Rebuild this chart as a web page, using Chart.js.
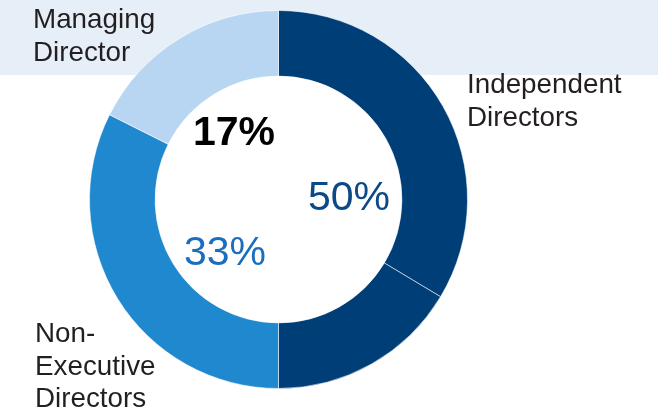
<!DOCTYPE html>
<html>
<head>
<meta charset="utf-8">
<script src="https://cdn.jsdelivr.net/npm/chart.js@4.4.1/dist/chart.umd.min.js"></script>
<style>
  html, body { margin: 0; padding: 0; background: #ffffff; }
  #wrap { position: relative; width: 658px; height: 407px; }
  canvas { display: block; }
</style>
</head>
<body>
<div id="wrap"><canvas id="c" width="658" height="407"></canvas></div>
<script>
// Slices clockwise from 12 o'clock (Independent Directors shown as two slices), share in %
const sliceLabels = ['Independent Directors', 'Independent Directors', 'Non-Executive Directors', 'Managing Director'];
const sliceValues = [33.6, 16.4, 32.4, 17.6];
const sliceColors = ['#003e77', '#003e77', '#1f88cf', '#b8d6f1'];

// Category captions (lines) and percentage labels
const captionLines = [['Managing', 'Director'], ['Independent', 'Directors'], ['Non-', 'Executive', 'Directors']];
const percentLabels = ['17%', '50%', '33%'];
const percentColors = ['#000000', '#0b4a86', '#1a6dbf'];

const bandPlugin = {
  id: 'band',
  beforeDraw(chart) {
    const ctx = chart.ctx;
    ctx.save();
    ctx.fillStyle = '#e6eef8';
    ctx.fillRect(0, 0, chart.width, 75);
    ctx.restore();
  }
};

const textPlugin = {
  id: 'texts',
  afterDraw(chart) {
    const ctx = chart.ctx;
    ctx.save();
    ctx.textBaseline = 'alphabetic';
    ctx.textAlign = 'left';
    ctx.fillStyle = '#231f20';
    ctx.font = '27.8px "Liberation Sans", Arial, sans-serif';
    const capPos = [[33, 28], [467, 93], [35, 342]];
    captionLines.forEach((lines, i) => {
      lines.forEach((t, j) => ctx.fillText(t, capPos[i][0], capPos[i][1] + j * 32.5));
    });
    ctx.textAlign = 'center';
    const pPos = [[234, 145], [349, 210], [225, 265]];
    const pFont = ['bold 41px "Liberation Sans", Arial, sans-serif', '41px "Liberation Sans", Arial, sans-serif', '41px "Liberation Sans", Arial, sans-serif'];
    percentLabels.forEach((t, i) => {
      ctx.font = pFont[i];
      ctx.fillStyle = percentColors[i];
      ctx.fillText(t, pPos[i][0], pPos[i][1]);
    });
    ctx.restore();
  }
};

new Chart(document.getElementById('c'), {
  type: 'doughnut',
  data: {
    labels: sliceLabels,
    datasets: [{
      data: sliceValues,
      backgroundColor: sliceColors,
      borderColor: 'rgba(255,255,255,0.55)',
      borderWidth: 1
    }]
  },
  options: {
    responsive: false,
    animation: false,
    cutout: '65.3%',
    layout: { padding: { left: 89, right: 190, top: 10, bottom: 18 } },
    plugins: { legend: { display: false }, tooltip: { enabled: false } }
  },
  plugins: [bandPlugin, textPlugin]
});
</script>
</body>
</html>
